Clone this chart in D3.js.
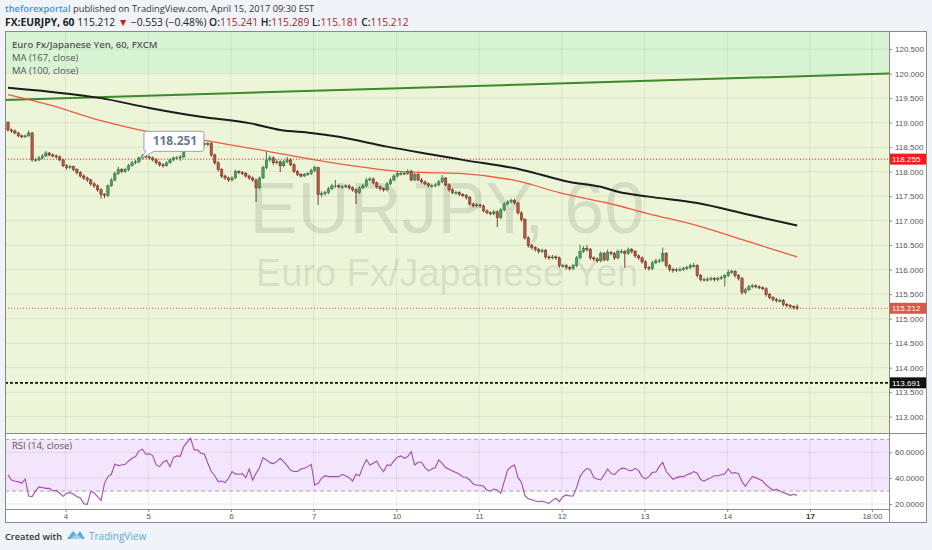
<!DOCTYPE html>
<html>
<head>
<meta charset="utf-8">
<script src="https://cdn.jsdelivr.net/npm/d3@7"></script>
<style>
  body { margin: 0; background: #f0f3f7; }
  text { font-family: "Open Sans", "Liberation Sans", sans-serif; }
  .ax text { font-family: "Liberation Sans", Arial, sans-serif; }
</style>
</head>
<body>
<svg id="chart" width="932" height="550"></svg>
<script>
// hourly EUR/JPY bars (bar 0 = first visible candle)
const opens = [
  119.00,118.85,118.83,118.79,118.73,118.71,118.73,118.79,118.24,118.24,
  118.28,118.32,118.38,118.34,118.32,118.30,118.24,118.12,118.08,118.10,
  118.04,117.98,117.91,117.87,117.83,117.75,117.71,117.63,117.53,117.51,
  117.71,117.83,117.96,118.04,118.00,118.04,118.12,118.18,118.20,118.28,
  118.32,118.30,118.28,118.24,118.18,118.14,118.12,118.18,118.24,118.28,
  118.28,118.30,118.49,118.63,118.69,118.65,118.59,118.57,118.55,118.57,
  118.34,118.18,118.04,117.91,117.87,117.83,117.87,118.00,117.98,117.96,
  117.91,117.87,117.83,117.67,117.87,118.08,118.24,118.28,118.18,118.20,
  118.12,118.20,118.24,118.14,118.00,117.94,117.91,117.94,117.96,118.02,
  118.08,117.53,117.55,117.57,117.65,117.71,117.71,117.69,117.69,117.71,
  117.67,117.63,117.57,117.67,117.71,117.83,117.85,117.77,117.69,117.65,
  117.63,117.75,117.83,117.91,117.96,117.96,117.96,118.00,117.83,117.94,
  117.83,117.79,117.75,117.71,117.71,117.73,117.79,117.87,117.73,117.63,
  117.57,117.57,117.53,117.51,117.47,117.34,117.30,117.32,117.30,117.20,
  117.16,117.14,117.18,117.06,117.22,117.34,117.38,117.41,117.36,117.16,
  117.02,116.65,116.49,116.45,116.41,116.37,116.39,116.26,116.24,116.26,
  116.24,116.08,116.08,116.04,116.02,116.08,116.24,116.37,116.43,116.41,
  116.24,116.22,116.18,116.33,116.20,116.35,116.33,116.24,116.37,116.37,
  116.33,116.41,116.37,116.28,116.24,116.16,116.04,116.02,116.14,116.18,
  116.18,116.33,116.08,116.00,115.98,116.00,116.00,116.02,116.04,116.08,
  116.08,115.88,115.80,115.80,115.80,115.82,115.80,115.82,115.84,115.88,
  115.94,115.96,115.88,115.82,115.53,115.59,115.65,115.67,115.65,115.63,
  115.61,115.49,115.43,115.39,115.37,115.37,115.29,115.27,115.25,115.24
];
const highs = [
  119.03,118.88,118.86,118.81,118.76,118.76,118.84,118.81,118.28,118.32,
  118.36,118.42,118.40,118.37,118.35,118.33,118.26,118.15,118.14,118.12,
  118.07,118.01,117.95,117.90,117.86,117.79,117.74,117.66,117.56,117.74,
  117.87,118.00,118.10,118.07,118.08,118.16,118.22,118.24,118.31,118.36,
  118.35,118.33,118.31,118.27,118.21,118.17,118.21,118.27,118.31,118.32,
  118.34,118.53,118.78,118.73,118.72,118.68,118.62,118.60,118.61,118.60,
  118.37,118.21,118.07,117.94,117.90,117.91,118.04,118.03,118.01,117.99,
  117.94,117.90,117.86,117.90,118.12,118.40,118.33,118.31,118.25,118.23,
  118.24,118.30,118.27,118.17,118.03,117.97,117.97,117.99,118.06,118.12,
  118.10,117.60,117.61,117.69,117.75,117.83,117.74,117.73,117.75,117.74,
  117.70,117.66,117.70,117.75,117.87,117.89,117.88,117.80,117.72,117.68,
  117.79,117.87,117.95,118.00,118.00,118.00,118.05,118.04,117.97,117.97,
  117.87,117.82,117.78,117.75,117.77,117.83,117.93,117.89,117.76,117.66,
  117.61,117.60,117.56,117.54,117.50,117.37,117.36,117.35,117.33,117.23,
  117.19,117.22,117.21,117.26,117.38,117.42,117.45,117.44,117.39,117.19,
  117.05,116.68,116.53,116.48,116.44,116.43,116.42,116.29,116.30,116.29,
  116.27,116.12,116.11,116.07,116.12,116.28,116.51,116.48,116.50,116.44,
  116.27,116.25,116.37,116.36,116.41,116.38,116.36,116.41,116.42,116.40,
  116.45,116.44,116.40,116.31,116.27,116.19,116.08,116.18,116.22,116.23,
  116.45,116.36,116.11,116.04,116.04,116.05,116.06,116.08,116.12,116.14,
  116.11,115.91,115.84,115.85,115.86,115.85,115.86,115.88,115.91,116.00,
  116.00,115.99,115.91,115.85,115.63,115.69,115.71,115.70,115.68,115.66,
  115.64,115.52,115.46,115.42,115.41,115.40,115.32,115.30,115.27,115.29
];
const lows = [
  118.82,118.79,118.76,118.70,118.68,118.69,118.71,118.20,118.20,118.21,
  118.25,118.30,118.31,118.29,118.27,118.21,118.09,118.04,118.05,118.01,
  117.94,117.88,117.83,117.79,117.71,117.67,117.59,117.45,117.46,117.48,
  117.69,117.80,117.93,117.97,117.97,118.01,118.10,118.15,118.17,118.25,
  118.27,118.25,118.21,118.15,118.10,118.08,118.10,118.16,118.21,118.25,
  118.22,118.27,118.46,118.60,118.61,118.56,118.54,118.52,118.52,118.30,
  118.14,118.00,117.87,117.83,117.79,117.80,117.85,117.95,117.93,117.88,
  117.83,117.79,117.38,117.64,117.85,118.05,118.20,118.14,118.15,117.99,
  118.09,118.17,118.11,117.97,117.91,117.88,117.89,117.91,117.93,117.99,
  117.32,117.48,117.51,117.54,117.62,117.67,117.66,117.65,117.66,117.63,
  117.59,117.34,117.54,117.64,117.68,117.80,117.74,117.65,117.61,117.59,
  117.60,117.72,117.80,117.88,117.92,117.93,117.93,117.80,117.80,117.80,
  117.76,117.72,117.68,117.67,117.68,117.70,117.76,117.70,117.59,117.54,
  117.53,117.50,117.48,117.43,117.30,117.27,117.27,117.26,117.17,117.13,
  117.11,117.11,116.87,117.03,117.19,117.31,117.35,117.33,117.12,116.98,
  116.61,116.45,116.41,116.37,116.33,116.34,116.22,116.20,116.21,116.20,
  116.04,116.04,116.00,115.98,115.99,116.05,116.21,116.34,116.37,116.20,
  116.18,116.14,116.15,116.17,116.17,116.29,116.20,116.21,116.33,116.04,
  116.30,116.33,116.24,116.20,116.12,116.00,115.98,115.99,116.11,116.14,
  116.15,116.04,115.96,115.94,115.95,115.96,115.97,115.99,116.01,116.04,
  115.84,115.76,115.76,115.76,115.77,115.76,115.76,115.79,115.66,115.85,
  115.91,115.84,115.78,115.49,115.50,115.56,115.62,115.62,115.60,115.58,
  115.45,115.40,115.35,115.33,115.33,115.25,115.23,115.21,115.19,115.18
];
const closes = [
  118.85,118.83,118.79,118.73,118.71,118.73,118.79,118.24,118.24,118.28,
  118.32,118.38,118.34,118.32,118.30,118.24,118.12,118.08,118.10,118.04,
  117.98,117.91,117.87,117.83,117.75,117.71,117.63,117.53,117.51,117.71,
  117.83,117.96,118.04,118.00,118.04,118.12,118.18,118.20,118.28,118.32,
  118.30,118.28,118.24,118.18,118.14,118.12,118.18,118.24,118.28,118.28,
  118.30,118.49,118.63,118.69,118.65,118.59,118.57,118.55,118.57,118.34,
  118.18,118.04,117.91,117.87,117.83,117.87,118.00,117.98,117.96,117.91,
  117.87,117.83,117.67,117.87,118.08,118.24,118.28,118.18,118.20,118.12,
  118.20,118.24,118.14,118.00,117.94,117.91,117.94,117.96,118.02,118.08,
  117.53,117.55,117.57,117.65,117.71,117.71,117.69,117.69,117.71,117.67,
  117.63,117.57,117.67,117.71,117.83,117.85,117.77,117.69,117.65,117.63,
  117.75,117.83,117.91,117.96,117.96,117.96,118.00,117.83,117.94,117.83,
  117.79,117.75,117.71,117.71,117.73,117.79,117.87,117.73,117.63,117.57,
  117.57,117.53,117.51,117.47,117.34,117.30,117.32,117.30,117.20,117.16,
  117.14,117.18,117.06,117.22,117.34,117.38,117.41,117.36,117.16,117.02,
  116.65,116.49,116.45,116.41,116.37,116.39,116.26,116.24,116.26,116.24,
  116.08,116.08,116.04,116.02,116.08,116.24,116.37,116.43,116.41,116.24,
  116.22,116.18,116.33,116.20,116.35,116.33,116.24,116.37,116.37,116.33,
  116.41,116.37,116.28,116.24,116.16,116.04,116.02,116.14,116.18,116.18,
  116.33,116.08,116.00,115.98,116.00,116.00,116.02,116.04,116.08,116.08,
  115.88,115.80,115.80,115.80,115.82,115.80,115.82,115.84,115.88,115.94,
  115.96,115.88,115.82,115.53,115.59,115.65,115.67,115.65,115.63,115.61,
  115.49,115.43,115.39,115.37,115.37,115.29,115.27,115.25,115.24,115.21
];

// RSI (14) per bar
const rsi = [
  42.5,38.6,37.6,37.3,36.0,39.4,26.2,25.7,30.1,33.2,
  32.7,32.1,32.1,30.1,30.6,28.3,25.9,28.3,28.8,27.5,
  25.7,24.6,20.2,19.7,29.6,28.8,25.7,22.8,36.0,41.2,
  43.0,50.7,49.7,50.2,50.7,53.3,55.4,56.7,61.1,62.4,
  58.5,58.8,57.5,50.2,48.9,52.3,53.9,48.9,55.9,57.2,
  56.9,64.4,67.8,70.9,61.9,61.9,59.3,58.5,51.5,45.1,
  41.9,37.3,37.8,36.5,39.9,45.1,43.3,43.0,43.5,40.4,
  47.1,38.6,43.8,48.2,55.9,54.1,52.0,51.3,52.8,55.4,
  52.8,49.7,46.1,45.1,45.1,47.1,47.6,48.9,50.7,34.7,
  36.0,39.9,41.9,41.2,41.2,41.2,41.2,43.0,41.7,40.4,
  37.8,43.0,41.9,48.9,54.4,50.2,51.5,53.3,48.2,45.1,
  50.2,49.7,53.3,56.2,57.2,55.4,56.7,60.6,50.2,52.3,
  52.3,48.2,45.6,47.1,48.2,54.1,51.5,48.2,46.9,45.6,
  44.3,43.0,40.9,40.7,38.6,35.5,34.5,34.5,33.7,30.6,
  30.1,31.6,30.9,28.3,37.3,46.3,48.9,50.2,40.4,36.8,
  26.5,24.1,23.3,22.3,21.8,22.3,21.3,20.5,22.8,24.4,
  21.8,25.7,27.0,26.2,26.2,32.7,41.2,45.1,47.6,46.3,
  40.4,39.4,38.6,42.5,47.1,43.8,42.7,45.6,47.6,47.6,
  46.1,45.8,47.6,45.8,41.2,39.4,41.2,44.5,44.8,48.9,
  52.3,45.1,42.2,39.1,40.4,41.2,41.2,42.7,43.5,45.1,
  43.8,38.9,37.6,39.1,40.4,41.9,41.9,42.7,43.3,47.1,
  43.8,44.3,43.5,37.3,33.7,37.8,41.2,40.4,39.1,37.8,
  34.7,32.7,30.6,31.4,30.1,28.8,28.0,26.7,27.5,26.5
];

// moving averages, read at a few bars along each line
const ma167Bars = [0, 12, 27, 41, 56, 70, 79, 88, 96, 110, 122, 132, 149, 163, 172, 177, 186, 200, 215, 229];
const ma167 = [119.71, 119.63, 119.50, 119.30, 119.12, 118.99, 118.85, 118.79, 118.71, 118.51, 118.36, 118.24, 118.04, 117.79, 117.69, 117.59, 117.49, 117.36, 117.12, 116.90];
const ma100Bars = [0, 12, 27, 41, 56, 75, 89, 104, 114, 122, 132, 149, 160, 174, 186, 201, 215, 229];
const ma100 = [119.57, 119.36, 119.04, 118.81, 118.65, 118.42, 118.24, 118.08, 118.00, 117.98, 117.96, 117.79, 117.57, 117.36, 117.14, 116.88, 116.57, 116.26];

// green trend line drawing
const trendBars = [-1, 255.7];
const trendValues = [119.46, 120.00];

// horizontal levels
const redLevel = 118.255;
const lastPrice = 115.212;
const blackLevel = 113.691;
const mintAbove = 120.0;
const calloutBar = 38;
const calloutValue = 118.251;

// axes
const priceTicks = d3.range(113, 120.51, 0.5);
const rsiTicks = [20, 40, 60];
const dayTicks = [16.7, 40.7, 64.7, 88.7, 112.7, 136.7, 160.7, 184.7, 208.7, 232.7, 250.7];
const dayLabels = ['4', '5', '6', '7', '10', '11', '12', '13', '14', '17', '18:00'];

// header quote
const quote = { last: '115.212', chg: '\u22120.553', pct: '(\u22120.48%)', o: '115.241', h: '115.289', l: '115.181', c: '115.212' };

const svg = d3.select('#chart');
const plotL = 5, plotR = 889, axisR = 927;
const mainT = 31, mainB = 433, rsiB = 509, frameB = 523;

const x = d3.scaleLinear().domain([-0.87, 255.66]).range([plotL, plotR]);
const y = d3.scaleLinear().domain([113, 120.5]).range([416.7, 49.1]);
const yRsi = d3.scaleLinear().domain([20, 60]).range([504, 452.3]);

svg.append('rect').attr('width', 932).attr('height', 550).attr('fill', '#f0f3f7');
svg.append('rect').attr('x', plotL).attr('y', mainT).attr('width', axisR - plotL).attr('height', frameB - mainT)
  .attr('fill', '#fff');

const defs = svg.append('defs');
defs.append('clipPath').attr('id', 'clipMain').append('rect')
  .attr('x', plotL).attr('y', mainT).attr('width', plotR - plotL).attr('height', mainB - mainT);
defs.append('clipPath').attr('id', 'clipRsi').append('rect')
  .attr('x', plotL).attr('y', mainB).attr('width', plotR - plotL).attr('height', rsiB - mainB);

// ---- main pane
const main = svg.append('g').attr('clip-path', 'url(#clipMain)');
main.append('rect').attr('x', plotL).attr('y', mainT).attr('width', plotR - plotL)
  .attr('height', y(mintAbove) - mainT).attr('fill', '#d8f4d4');
main.append('rect').attr('x', plotL).attr('y', y(mintAbove)).attr('width', plotR - plotL)
  .attr('height', mainB - y(mintAbove)).attr('fill', '#ecf5d8');

main.selectAll('line.hg').data(priceTicks).enter().append('line')
  .attr('x1', plotL).attr('x2', plotR).attr('y1', d => y(d)).attr('y2', d => y(d))
  .attr('stroke', 'rgba(0,0,0,0.07)');
main.selectAll('line.vg').data(dayTicks).enter().append('line')
  .attr('x1', d => x(d)).attr('x2', d => x(d)).attr('y1', mainT).attr('y2', mainB)
  .attr('stroke', 'rgba(0,0,0,0.07)');

// watermark (one text, two lines)
const cx = (plotL + plotR) / 2;
const wm = main.append('text').attr('text-anchor', 'middle')
  .style('font-family', '"Liberation Sans", Arial, sans-serif').attr('fill', 'rgba(80,90,70,0.15)');
wm.append('tspan').attr('x', cx).attr('y', 233).style('font-size', '72px').text('EURJPY, 60');
wm.append('tspan').attr('x', cx).attr('y', 286).style('font-size', '38px').text('Euro Fx/Japanese Yen');

// levels
main.append('line').attr('x1', plotL).attr('x2', plotR).attr('y1', y(redLevel)).attr('y2', y(redLevel))
  .attr('stroke', '#f0262a').attr('stroke-dasharray', '1.2,1.8');
main.append('line').attr('x1', plotL).attr('x2', plotR).attr('y1', y(lastPrice)).attr('y2', y(lastPrice))
  .attr('stroke', '#dd5a48').attr('stroke-dasharray', '1,2');
main.append('line').attr('x1', plotL).attr('x2', plotR).attr('y1', y(blackLevel)).attr('y2', y(blackLevel))
  .attr('stroke', '#111').attr('stroke-width', 1.6).attr('stroke-dasharray', '3,2');

// trend line + MAs
main.append('path').datum(trendBars.map((b, i) => [b, trendValues[i]]))
  .attr('fill', 'none').attr('stroke', '#3c8a2c').attr('stroke-width', 2)
  .attr('d', d3.line().x(d => x(d[0])).y(d => y(d[1])));
main.append('path').datum(ma167Bars.map((b, i) => [b, ma167[i]]))
  .attr('fill', 'none').attr('stroke', '#1b1b1b').attr('stroke-width', 2)
  .attr('d', d3.line().curve(d3.curveMonotoneX).x(d => x(d[0])).y(d => y(d[1])));
main.append('path').datum(ma100Bars.map((b, i) => [b, ma100[i]]))
  .attr('fill', 'none').attr('stroke', '#ef5a40').attr('stroke-width', 1.3)
  .attr('d', d3.line().curve(d3.curveMonotoneX).x(d => x(d[0])).y(d => y(d[1])));

// candles
const bars = closes.map((c, i) => ({ i, o: opens[i], h: highs[i], l: lows[i], c }));
const cg = main.append('g');
cg.selectAll('line').data(bars).enter().append('line')
  .attr('x1', d => x(d.i)).attr('x2', d => x(d.i))
  .attr('y1', d => y(d.h)).attr('y2', d => y(d.l))
  .attr('stroke', d => d.c >= d.o ? '#2f6b3f' : '#6b2a1e').attr('stroke-width', 0.9);
cg.selectAll('rect').data(bars).enter().append('rect')
  .attr('x', d => x(d.i) - 1.2).attr('width', 2.4)
  .attr('y', d => y(Math.max(d.o, d.c)))
  .attr('height', d => Math.max(0.8, y(Math.min(d.o, d.c)) - y(Math.max(d.o, d.c))))
  .attr('fill', d => d.c >= d.o ? '#4f9e5e' : '#b9573d')
  .attr('stroke', d => d.c >= d.o ? '#2f6b3f' : '#6b2a1e').attr('stroke-width', 0.5);

// callout
const ax = x(calloutBar), ay = y(calloutValue);
const cb = svg.append('g');
cb.append('path')
  .attr('d', `M${ax + 7},${ay - 28} h56 a2,2 0 0 1 2,2 v16 a2,2 0 0 1 -2,2 h-48 l-13,7 l5,-7 a2,2 0 0 1 -2,-2 v-16 a2,2 0 0 1 2,-2 z`)
  .attr('fill', '#fff').attr('stroke', '#9aa3ad');
cb.append('text').attr('x', ax + 36).attr('y', ay - 14.5).attr('text-anchor', 'middle')
  .style('font-size', '12px').style('font-weight', 700).attr('fill', '#6c7a8c').text(calloutValue.toFixed(3));

// legend
const leg = svg.append('g').style('font-size', '9.5px').attr('fill', '#555');
leg.append('text').attr('x', 12).attr('y', 47.5).style('font-weight', 600).text('Euro Fx/Japanese Yen, 60, FXCM');
leg.append('text').attr('x', 12).attr('y', 60.5).text('MA (167, close)');
leg.append('text').attr('x', 12).attr('y', 73.5).text('MA (100, close)');

// ---- RSI pane
const rp = svg.append('g').attr('clip-path', 'url(#clipRsi)');
rp.append('rect').attr('x', plotL).attr('y', mainB).attr('width', plotR - plotL).attr('height', rsiB - mainB).attr('fill', '#fdfdfd');
rp.append('rect').attr('x', plotL).attr('y', yRsi(70)).attr('width', plotR - plotL)
  .attr('height', yRsi(30) - yRsi(70)).attr('fill', '#f3e5fb');
rp.selectAll('line.rg').data(rsiTicks).enter().append('line')
  .attr('x1', plotL).attr('x2', plotR).attr('y1', d => yRsi(d)).attr('y2', d => yRsi(d))
  .attr('stroke', 'rgba(0,0,0,0.07)');
rp.selectAll('line.vg').data(dayTicks).enter().append('line')
  .attr('x1', d => x(d)).attr('x2', d => x(d)).attr('y1', mainB).attr('y2', rsiB)
  .attr('stroke', 'rgba(0,0,0,0.07)');
rp.selectAll('line.band').data([70, 30]).enter().append('line')
  .attr('x1', plotL).attr('x2', plotR).attr('y1', d => yRsi(d)).attr('y2', d => yRsi(d))
  .attr('stroke', '#aaa6b4').attr('stroke-dasharray', '4,3');
rp.append('path').datum(rsi)
  .attr('fill', 'none').attr('stroke', '#a04db3').attr('stroke-width', 1.1)
  .attr('d', d3.line().x((d, i) => x(i)).y(d => yRsi(d)));
svg.append('text').attr('x', 12).attr('y', 449).style('font-size', '9.5px').attr('fill', '#555').text('RSI (14, close)');

// ---- axes
const pAxis = svg.append('g').attr('class', 'ax').attr('transform', `translate(${plotR},0)`)
  .call(d3.axisRight(y).tickValues(priceTicks).tickFormat(d3.format('.3f')).tickSize(3).tickPadding(3));
const rAxis = svg.append('g').attr('class', 'ax').attr('transform', `translate(${plotR},0)`)
  .call(d3.axisRight(yRsi).tickValues(rsiTicks).tickFormat(d3.format('.4f')).tickSize(3).tickPadding(3));
const xAxis = svg.append('g').attr('class', 'ax').attr('transform', `translate(0,${rsiB})`)
  .call(d3.axisBottom(x).tickValues(dayTicks).tickFormat((d, i) => dayLabels[i]).tickSize(3).tickPadding(1));
[pAxis, rAxis, xAxis].forEach(a => {
  a.select('.domain').remove();
  a.selectAll('line').attr('stroke', '#888');
  a.selectAll('text').style('font-size', '8px').attr('fill', '#555');
});
xAxis.selectAll('text').filter((d, i) => dayLabels[i] === '17').style('font-weight', 700).attr('fill', '#333');

// axis price labels
const tags = [
  { v: redLevel, fill: '#f21b1b', txt: '118.255' },
  { v: lastPrice, fill: '#dc5846', txt: '115.212' },
  { v: blackLevel, fill: '#111', txt: '113.691' }
];
const tg = svg.append('g').attr('class', 'ax');
tg.selectAll('rect').data(tags).enter().append('rect')
  .attr('x', plotR).attr('y', d => y(d.v) - 5.5).attr('width', axisR - plotR).attr('height', 11)
  .attr('fill', d => d.fill);
tg.selectAll('text').data(tags).enter().append('text')
  .attr('x', plotR + 3).attr('y', d => y(d.v) + 3).style('font-size', '8px').attr('fill', '#fff').text(d => d.txt);

// frame lines
const fr = svg.append('g').attr('stroke', '#8a8a8a').attr('fill', 'none');
fr.append('rect').attr('x', plotL + 0.5).attr('y', mainT + 0.5).attr('width', axisR - plotL - 1).attr('height', frameB - mainT - 1);
fr.append('line').attr('x1', plotR + 0.5).attr('x2', plotR + 0.5).attr('y1', mainT).attr('y2', frameB);
fr.append('line').attr('x1', plotL).attr('x2', axisR).attr('y1', mainB + 0.5).attr('y2', mainB + 0.5);
fr.append('line').attr('x1', plotL).attr('x2', plotR).attr('y1', rsiB + 0.5).attr('y2', rsiB + 0.5);

// ---- header
const h1 = svg.append('text').attr('x', 5).attr('y', 12).style('font-size', '9.3px').attr('fill', '#333');
h1.append('tspan').attr('fill', '#3b97d6').style('font-weight', 600).text('theforexportal');
h1.append('tspan').text(' published on TradingView.com, April 15, 2017 09:30 EST');
const h2 = svg.append('text').attr('x', 5).attr('y', 25.5).style('font-size', '10.3px').attr('fill', '#222');
h2.append('tspan').style('font-weight', 700).text('FX:EURJPY, 60');
h2.append('tspan').text(' ' + quote.last + ' ');
h2.append('tspan').attr('fill', '#c81e1e').text('\u25BC');
h2.append('tspan').text(' ' + quote.chg + ' ' + quote.pct + ' ');
[['O:', quote.o], ['H:', quote.h], ['L:', quote.l], ['C:', quote.c]].forEach(([k, v]) => {
  h2.append('tspan').style('font-weight', 600).text(' ' + k);
  h2.append('tspan').attr('fill', '#b0242a').text(v);
});

// ---- footer
svg.append('text').attr('x', 5).attr('y', 540).style('font-size', '9.2px').style('font-weight', 600).attr('fill', '#333').text('Created with');
const logo = svg.append('g').attr('fill', '#5aaade');
logo.append('path').attr('d', 'M67,539 L73,531 L77,535 L80,531 L85,539 Z');
logo.append('path').attr('d', 'M70,539 L76,534 L83,539 Z').attr('fill', '#9fd0ef');
svg.append('text').attr('x', 89).attr('y', 540).style('font-size', '10px').attr('fill', '#5aaade').text('TradingView');
</script>
</body>
</html>
